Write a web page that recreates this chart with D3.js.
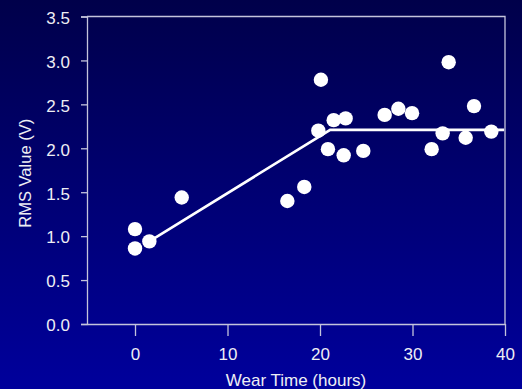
<!DOCTYPE html>
<html><head><meta charset="utf-8">
<script src="https://cdn.jsdelivr.net/npm/d3@7"></script>
<style>
html,body{margin:0;padding:0;}
svg{display:block;}
text{font-family:"Liberation Sans",Arial,sans-serif;}
</style></head>
<body>
<svg id="c" width="522" height="389"></svg>
<script>
// data
const wearTime = [0, 0, 1.55, 5.05, 16.47, 18.3, 19.82, 20.1, 20.86, 21.48, 22.77, 22.56, 24.68, 26.99, 28.47, 29.95, 32.07, 33.26, 33.91, 35.75, 36.65, 38.52];
const rmsValue = [1.08, 0.86, 0.94, 1.44, 1.40, 1.56, 2.20, 2.78, 1.99, 2.32, 2.34, 1.92, 1.97, 2.38, 2.45, 2.40, 1.99, 2.17, 2.98, 2.12, 2.48, 2.19];
const fitTime = [1.55, 21.1, 39.9];
const fitValue = [0.94, 2.21, 2.21];
const xTicks = [0, 10, 20, 30, 40];
const yTicks = [0, 0.5, 1.0, 1.5, 2.0, 2.5, 3.0, 3.5];

const svg = d3.select("#c");
const W = 522, H = 389;
const defs = svg.append("defs");
const grad = defs.append("linearGradient").attr("id","bg").attr("x1",0).attr("y1",0).attr("x2",0).attr("y2",1);
grad.append("stop").attr("offset","0%").attr("stop-color","#00004a");
grad.append("stop").attr("offset","100%").attr("stop-color","#00009c");
svg.append("rect").attr("width",W).attr("height",H).attr("fill","url(#bg)");

const L = 87, R = 505, T = 16.5, B = 324;
const x = d3.scaleLinear().domain([-5.19, 40]).range([L, R]);
const y = d3.scaleLinear().domain([0, 3.5]).range([B, T]);
const frameColor = "#c4c4dc";
const textColor = "#eeeef4";

// y axis
const yAxis = svg.append("g").attr("transform",`translate(${L},0)`)
  .call(d3.axisLeft(y).tickValues(yTicks).tickFormat(d3.format(".1f")).tickSize(6).tickSizeOuter(6));
yAxis.selectAll("path,line").attr("stroke",frameColor).attr("stroke-width",1.3);
yAxis.selectAll("text").attr("fill",textColor).attr("font-size",17).attr("x",-17).attr("dy","0.4em");

// x axis
const xAxis = svg.append("g").attr("transform",`translate(0,${B})`)
  .call(d3.axisBottom(x).tickValues(xTicks).tickSize(12).tickSizeOuter(0));
xAxis.selectAll("path,line").attr("stroke",frameColor).attr("stroke-width",1.3);
xAxis.selectAll("text").attr("fill",textColor).attr("font-size",17).attr("y",24);

// top & right frame
svg.append("path")
  .attr("d",`M${x.range()[0]},${y(3.5)}H${x(40)}V${y(0)}`)
  .attr("fill","none").attr("stroke",frameColor).attr("stroke-width",1.3);

// fit line
const line = d3.line().x(d=>x(d[0])).y(d=>y(d[1]));
svg.append("path")
  .datum(fitTime.map((t,i)=>[t, fitValue[i]]))
  .attr("d", line)
  .attr("fill","none").attr("stroke","#ffffff").attr("stroke-width",2.6);

// points
svg.append("g").selectAll("circle")
  .data(wearTime.map((t,i)=>[t, rmsValue[i]]))
  .join("circle")
  .attr("cx",d=>x(d[0])).attr("cy",d=>y(d[1])).attr("r",7.2)
  .attr("fill","#ffffff");

// titles
svg.append("text").attr("x",(L+R)/2).attr("y",386).attr("text-anchor","middle")
  .attr("fill",textColor).attr("font-size",17).text("Wear Time (hours)");
svg.append("text").attr("transform",`translate(31,${(T+B)/2 + 3}) rotate(-90)`).attr("text-anchor","middle")
  .attr("fill",textColor).attr("font-size",16.5).text("RMS Value (V)");
</script>
</body></html>
